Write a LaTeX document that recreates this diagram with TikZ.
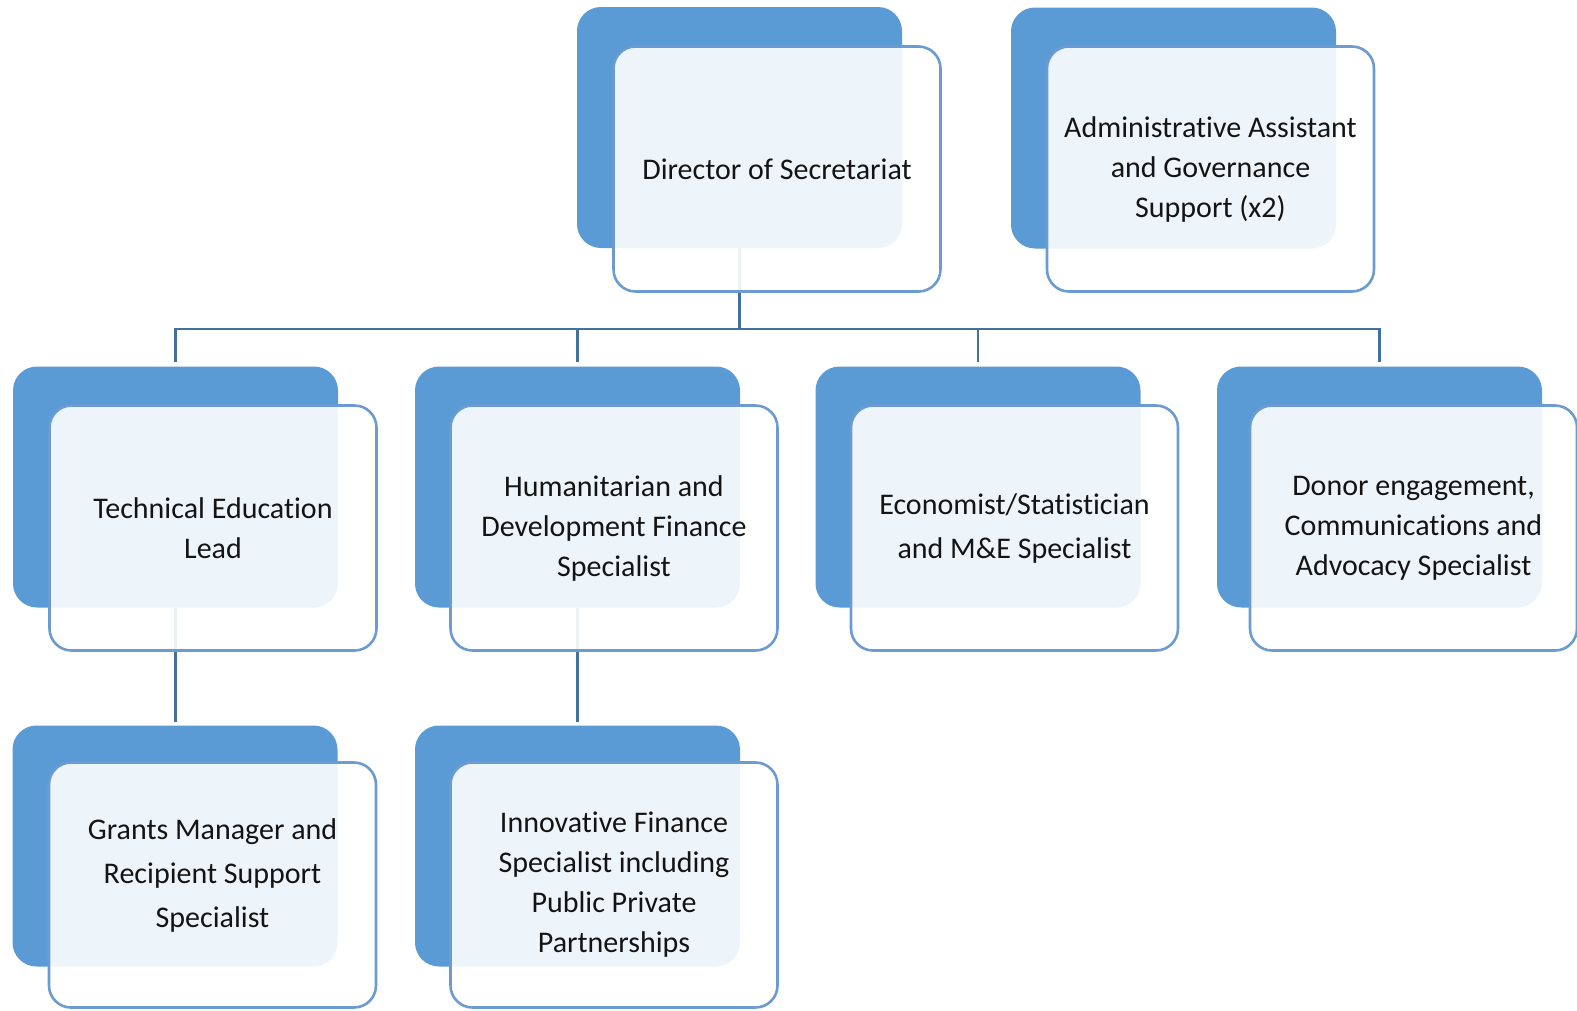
\documentclass[tikz,border=0pt]{standalone}
\usepackage{fontspec}
\setmainfont{Carlito}[Ligatures=NoCommon,RawFeature={-liga;-clig;-calt}]
\definecolor{accent}{HTML}{5B9BD5}
\definecolor{edge}{HTML}{6B9BD1}
\definecolor{linec}{HTML}{41719C}
\definecolor{txt}{HTML}{141414}
\begin{document}
\begin{tikzpicture}[x=1pt,y=-1pt,
  backbox/.style={fill=accent, draw=none, rounded corners=24pt, minimum width=325pt, minimum height=241pt, inner sep=0pt},
  frontbox/.style={draw=edge, line width=2.6pt, fill=white, fill opacity=0.9, text opacity=1, rounded corners=22pt, minimum width=327pt, minimum height=245pt, inner sep=0pt, align=center, text=txt, font=\fontsize{30}{40}\selectfont},
  widelines/.style={font=\fontsize{30}{44}\selectfont},
  conn/.style={draw=linec, line width=2.8pt}]
\useasboundingbox (0,0) rectangle (1577,1010);
% back boxes
\node[backbox] (bdir) at (739.5,127.5) {};
\node[backbox] (badm) at (1173.5,128) {};
\node[backbox] (b1) at (175.5,487) {};
\node[backbox] (b2) at (577.5,487) {};
\node[backbox] (b3) at (978,487) {};
\node[backbox] (b4) at (1379.5,487) {};
\node[backbox] (b5) at (175,846) {};
\node[backbox] (b6) at (577.5,846) {};
% connectors
\coordinate (bar) at (0,329);
\foreach \c in {b1,b2,b3,b4}
  \draw[conn, shorten >=4pt] (bdir.south) -- (bdir.south |- bar) -| (\c.north);
\draw[conn, shorten >=3pt] (b1.south) -- (b1.south |- b5.north);
\draw[conn, shorten >=3pt] (b2.south) -- (b2.south |- b6.north);
% front boxes
\node[frontbox] (fdir) at (777,169) {Director of Secretariat};
\node[frontbox] (fadm) at (1210.5,169) {Administrative Assistant\\and Governance\\Support (x2)};
\node[frontbox] (f1) at (213,528) {Technical Education\\Lead};
\node[frontbox] (f2) at (614,528) {Humanitarian and\\Development Finance\\Specialist};
\node[frontbox, widelines] (f3) at (1014.5,528) {Economist/Statistician\\and M\&E Specialist};
\node[frontbox] (f4) at (1413.5,528) {Donor engagement,\\Communications and\\Advocacy Specialist};
\node[frontbox, widelines] (f5) at (212.5,885) {Grants Manager and\\Recipient Support\\Specialist\\[-20pt]};
\node[frontbox] (f6) at (614,885) {Innovative Finance\\Specialist including\\Public Private\\Partnerships};
\end{tikzpicture}
\end{document}
